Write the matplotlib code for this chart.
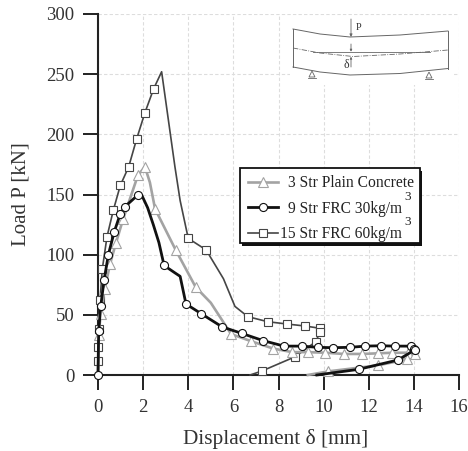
import matplotlib
matplotlib.use('Agg')
import matplotlib.pyplot as plt
from matplotlib.patches import Rectangle, Polygon

plt.rcParams['font.family'] = ['Liberation Serif', 'DejaVu Serif']

# 3 Str plain concrete
x_plain = [0, 0.03, 0.12, 0.3, 0.53, 0.8, 1.12, 1.77, 2.08, 2.3, 2.53, 3.44, 4.33, 5.0, 5.9, 6.8,
           7.76, 8.6, 9.3, 10.07, 10.9, 11.7, 12.4, 13.05, 13.75, 14.05, 13.7, 12.4, 10.2, 9.3]
y_plain = [0, 33, 51, 71.5, 92, 110, 130, 166, 173, 160, 138, 104, 73, 60, 34, 28,
           22, 19, 19, 18.5, 17.5, 17.5, 18, 18.5, 18.5, 17.5, 13, 8, 3, 0]
plain_skip = [0, 9, 13, 29]

# 9 Str FRC 30kg/m3
x_frc30 = [0, 0.03, 0.12, 0.27, 0.46, 0.72, 0.98, 1.2, 1.79, 1.95, 2.2, 2.45, 2.7, 2.93, 3.4, 3.64, 3.9,
           4.57, 5.5, 6.37, 7.33, 8.25, 9.03, 9.73, 10.4, 11.17, 11.84, 12.53, 13.17, 13.88, 14.0, 14.03,
           13.3, 11.55, 9.7]
y_frc30 = [0, 36.5, 57, 79, 100, 119, 133.5, 140, 150, 149, 139, 125, 110, 91, 85, 82, 59,
           51, 40, 34.6, 28.5, 24, 24, 23, 22.7, 23, 24, 24.3, 24, 24, 22, 20.8,
           12.5, 4.7, 0]
frc30_skip = [9, 10, 11, 12, 14, 15, 34]

# 15 Str FRC 60kg/m3
x_frc60 = [0, 0, 0, 0.03, 0.09, 0.19, 0.4, 0.68, 0.99, 1.36, 1.71, 2.08, 2.47, 2.82, 3.41, 3.64, 4.0, 4.79,
           5.56, 6.07, 6.64, 7.52, 8.36, 9.18, 9.85, 9.85, 9.65, 8.74, 7.26, 6.74]
y_frc60 = [0, 11.6, 23.5, 38, 62, 88, 115, 137, 157.6, 173, 196, 218, 238, 252, 173, 145, 113.5, 104,
           80, 57, 48.5, 44.3, 42.4, 40.7, 38.8, 36, 27.7, 15.2, 3.3, 0]
frc60_skip = [0, 13, 14, 15, 18, 19, 29]

x_ticks = [0, 2, 4, 6, 8, 10, 12, 14, 16]
y_ticks = [0, 50, 100, 150, 200, 250, 300]

W, H = 468, 451


def marks(x, skip):
    return [i for i in range(len(x)) if i not in skip]


fig = plt.figure(figsize=(W / 100, H / 100), dpi=100)
ax = fig.add_axes([98 / W, 1 - 375 / H, 361 / W, 361 / H])

ax.plot(x_frc60, y_frc60, color='#454545', lw=1.2, marker='s', ms=5.5, mfc='white', mec='#454545', mew=0.8,
        markevery=marks(x_frc60, frc60_skip), clip_on=False, zorder=3, label='15 Str FRC 60kg/m')
ax.plot(x_plain, y_plain, color='#a3a3a3', lw=1.9, marker='^', ms=6.5, mfc='white', mec='#a3a3a3', mew=0.8,
        markevery=marks(x_plain, plain_skip), clip_on=False, zorder=4, label='3 Str Plain Concrete')
ax.plot(x_frc30, y_frc30, color='#111111', lw=2.0, marker='o', ms=5.8, mfc='white', mec='#111111', mew=0.8,
        markevery=marks(x_frc30, frc30_skip), clip_on=False, zorder=5, label='9 Str FRC 30kg/m')

ax.set_xlim(0, 16)
ax.set_ylim(0, 300)
ax.set_xticks(x_ticks)
ax.set_yticks(y_ticks)
ax.grid(True, color='#dddddd', ls=(0, (3, 2)), lw=0.8)
ax.set_axisbelow(True)
ax.spines['top'].set_visible(False)
ax.spines['right'].set_visible(False)
ax.spines['left'].set_linewidth(1.5)
ax.spines['bottom'].set_linewidth(1.5)
ax.spines['left'].set_color('#222222')
ax.spines['bottom'].set_color('#222222')
ax.tick_params(length=10.5, width=1.4, color='#222222', labelsize=13.5, labelcolor='#333333')
ax.tick_params(axis='x', pad=7)
ax.tick_params(axis='y', pad=6.5)
ax.set_xlabel('Displacement δ [mm]', fontsize=15.3, color='#333333', labelpad=9, x=0.493)
ax.set_ylabel('Load P [kN]', fontsize=15, color='#333333', labelpad=11)

# legend box is drawn by hand, it has a hard black shadow in the reference
box = dict(transform=ax.transAxes, clip_on=False)
ax.add_patch(Rectangle(((242 - 98) / 361, (375 - 246) / 361), 180 / 361, 75 / 361, fc='#111111', ec='none', zorder=5.5, **box))
ax.add_patch(Rectangle(((240 - 98) / 361, (375 - 243) / 361), 180 / 361, 75 / 361, fc='white', ec='#111111', lw=1.3, zorder=5.6, **box))

h, l = ax.get_legend_handles_labels()
order = [1, 2, 0]
leg = ax.legend([h[i] for i in order], [l[i] for i in order], loc='upper left',
                bbox_to_anchor=((248 - 98) / 361, (375 - 175) / 361), fontsize=11.2, frameon=False,
                borderpad=0, labelspacing=0.62, handlelength=1.9, handletextpad=0.7, borderaxespad=0)
leg.set_zorder(6)
for t in leg.get_texts():
    t.set_color('#222222')
leg.get_texts()[2].set_x(-8)

# beam sketch, in pixel coordinates of the figure
sk = fig.add_axes([0, 0, 1, 1])
sk.set_xlim(0, W)
sk.set_ylim(H, 0)
sk.axis('off')
sk.patch.set_alpha(0)
sk.set_zorder(7)
sk.text(408, 197, '3', fontsize=9.5, color='#222222', ha='center', va='center')
sk.text(408, 222, '3', fontsize=9.5, color='#222222', ha='center', va='center')
sk.add_patch(Rectangle((290, 16), 162, 69, fc='white', ec='none'))
c = '#666666'
sk.plot([293, 320, 350, 400, 448], [29, 34, 37, 35, 31], color=c, lw=0.7)
sk.plot([293, 320, 350, 400, 448], [67, 72, 75, 73.5, 68.5], color=c, lw=0.7)
sk.plot([293, 293], [29, 67], color=c, lw=0.7)
sk.plot([448, 448], [31, 68.5], color=c, lw=0.7)
sk.plot([293, 320, 353, 400, 448], [48, 53, 56.5, 54, 50], color=c, lw=0.6, ls='-.')
sk.plot([313, 430], [51.7, 51.7], color=c, lw=0.6)
sk.annotate('', xy=(351, 37), xytext=(351, 19), arrowprops=dict(arrowstyle='-|>', color=c, lw=0.6, mutation_scale=4, shrinkA=0, shrinkB=0))
sk.annotate('', xy=(351, 51.7), xytext=(351, 44), arrowprops=dict(arrowstyle='-|>', color=c, lw=0.6, mutation_scale=3, shrinkA=0, shrinkB=0))
sk.annotate('', xy=(351, 56.7), xytext=(351, 67), arrowprops=dict(arrowstyle='-|>', color=c, lw=0.6, mutation_scale=3, shrinkA=0, shrinkB=0))
sk.text(359, 28, 'P', fontsize=7.5, color='#333333', ha='center', va='center')
sk.text(346, 65, 'δ', fontsize=8.5, color='#333333', ha='center', va='center')
for sx, sy in [(312, 71), (429, 72)]:
    sk.add_patch(Polygon([(sx, sy), (sx - 3, sy + 6), (sx + 3, sy + 6)], fc='white', ec=c, lw=0.6))
    sk.plot([sx - 4, sx + 4], [sy + 7, sy + 7], color=c, lw=0.6)

fig.savefig('out.png', dpi=100)
